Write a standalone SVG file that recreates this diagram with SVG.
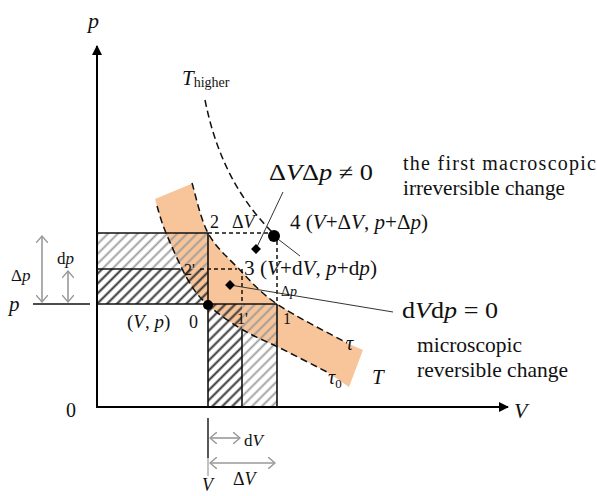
<svg xmlns="http://www.w3.org/2000/svg" width="597" height="496" viewBox="0 0 597 496">
<defs>
<style>
.t{font-family:"Liberation Serif","Times New Roman",Times,serif;fill:#111}
.i{font-style:italic}
.ax{stroke:#000;stroke-width:2;fill:none}
.ln{stroke:#111;stroke-width:1.6;fill:none}
.dl{stroke:#111;stroke-width:1.5;fill:none;stroke-dasharray:4 3}
.dc{stroke:#111;stroke-width:1.5;fill:none;stroke-dasharray:7 4}
.th{stroke:#333;stroke-width:1;fill:none}
.ga{stroke:#999;stroke-width:1.6;fill:none;marker-start:url(#ch);marker-end:url(#ch)}
</style>
<marker id="ah" viewBox="0 0 10 10" refX="9" refY="5" markerWidth="10" markerHeight="10" markerUnits="userSpaceOnUse" orient="auto"><path d="M0,0 L10,5 L0,10 Z" fill="#000"/></marker>
<marker id="ch" viewBox="0 0 8 12" refX="7" refY="6" markerWidth="8" markerHeight="12" markerUnits="userSpaceOnUse" orient="auto-start-reverse"><path d="M0,0 L7,6 L0,12" fill="none" stroke="#999" stroke-width="1.4"/></marker>
<pattern id="hd" patternUnits="userSpaceOnUse" width="7" height="7" patternTransform="rotate(-45)"><line x1="0" y1="3.5" x2="7" y2="3.5" stroke="#333" stroke-width="2"/></pattern>
<pattern id="hl" patternUnits="userSpaceOnUse" width="7" height="7" patternTransform="rotate(-45)"><line x1="0" y1="3.5" x2="7" y2="3.5" stroke="#9a9a9a" stroke-width="1.8"/></pattern>
</defs>
<rect width="597" height="496" fill="#fff"/>

<g id="band">
<path d="M155,199 L191,184 L192,183 C194.7,191.3 200.3,218.8 208,233 C215.7,247.2 226.5,256.2 238,268 C249.5,279.8 258.8,291.5 277,304 C295.2,316.5 335.3,336.5 347,343 L363,350 L349,387 L327,372 C319.2,368 294,355 280,348 C266,341 255,337.2 243,330 C231,322.8 217.2,313.3 208,305 C198.8,296.7 195,292 188,280 C181,268 171.2,245.3 166,233 C160.8,220.7 158.5,210.5 157,206 Z" fill="#F8C59A"/>
</g>

<g id="hatches">
<rect x="97" y="233" width="111" height="36" fill="url(#hl)"/>
<rect x="97" y="269" width="111" height="35" fill="url(#hd)"/>
<rect x="208" y="304" width="34" height="103" fill="url(#hd)"/>
<rect x="242" y="304" width="35" height="103" fill="url(#hl)"/>
</g>

<g id="connectors">
<line class="ax" x1="97" y1="408" x2="97" y2="46" marker-end="url(#ah)"/>
<line class="ax" x1="96" y1="407" x2="508" y2="407" marker-end="url(#ah)"/>
<line class="ln" x1="97" y1="233" x2="208" y2="233"/>
<line class="ln" x1="97" y1="269" x2="180" y2="269"/>
<line class="ln" x1="97" y1="304" x2="277" y2="304"/>
<line class="ln" x1="208" y1="233" x2="208" y2="407"/>
<line class="ln" x1="242" y1="330" x2="242" y2="407"/>
<line class="ln" x1="277" y1="304" x2="277" y2="407"/>
<line class="dl" x1="208" y1="233" x2="270" y2="233"/>
<line class="dl" x1="200" y1="269" x2="237" y2="269"/>
<line class="dl" x1="242" y1="269" x2="242" y2="304"/>
<line class="dl" x1="277" y1="241" x2="277" y2="304"/>
<path class="dc" d="M192,183 C194.7,191.3 200.3,218.8 208,233 C215.7,247.2 226.5,256.2 238,268 C249.5,279.8 258.8,291.5 277,304 C295.2,316.5 335.3,336.5 347,343"/>
<path class="dc" d="M157,206 C158.5,210.5 160.8,220.7 166,233 C171.2,245.3 181,268 188,280 C195,292 198.8,296.7 208,305 C217.2,313.3 231,322.8 243,330 C255,337.2 266,341 280,348 C294,355 319.2,368 327,372"/>
<path class="dc" d="M205,100 C215,150 235,195 272,232"/>
<line class="th" x1="274" y1="236" x2="300" y2="256"/>
<line class="th" x1="283" y1="192" x2="256" y2="249"/>
<line class="th" x1="230" y1="285" x2="393" y2="312"/>
<line x1="33" y1="304" x2="90" y2="304" stroke="#111" stroke-width="1.5"/>
<line class="ga" x1="42" y1="236" x2="42" y2="302"/>
<line class="ga" x1="68" y1="271" x2="68" y2="302" stroke="#bbb"/>
<line x1="208" y1="418" x2="208" y2="458" stroke="#111" stroke-width="1.4"/>
<line x1="208" y1="458" x2="208" y2="476" stroke="#aaa" stroke-width="1.4"/>
<line class="ga" x1="210" y1="438" x2="240" y2="438"/>
<line class="ga" x1="210" y1="463" x2="275" y2="463"/>
</g>

<g id="points">
<circle id="pt0" cx="208" cy="305" r="5" fill="#000"/>
<circle id="pt4" cx="274" cy="236" r="6" fill="#000"/>
<rect id="dot3" x="226.5" y="281.5" width="7" height="7" fill="#000" transform="rotate(45 230 285)"/>
<rect id="dot4s" x="252.5" y="245.5" width="7" height="7" fill="#000" transform="rotate(45 256 249)"/>
</g>

<g id="labels">
<text class="t i" x="88" y="28" font-size="22">p</text>
<text class="t" x="182" y="85" font-size="21"><tspan class="i">T</tspan><tspan font-size="14" dy="2">higher</tspan></text>
<text class="t" x="269" y="180" font-size="23" textLength="104" lengthAdjust="spacingAndGlyphs">Δ<tspan class="i">V</tspan>Δ<tspan class="i">p</tspan> ≠ 0</text>
<text class="t" x="403" y="170" font-size="20" textLength="193" lengthAdjust="spacing">the first macroscopic</text>
<text class="t" x="403" y="195" font-size="20" textLength="162" lengthAdjust="spacingAndGlyphs">irreversible change</text>
<text class="t" x="210" y="228" font-size="18">2</text>
<text class="t" x="232" y="228" font-size="18">Δ<tspan class="i">V</tspan></text>
<text class="t" x="290" y="229" font-size="20" textLength="138" lengthAdjust="spacingAndGlyphs">4 (<tspan class="i">V</tspan>+Δ<tspan class="i">V</tspan>, <tspan class="i">p</tspan>+Δ<tspan class="i">p</tspan>)</text>
<text class="t" x="244" y="275" font-size="20" textLength="133" lengthAdjust="spacingAndGlyphs">3 (<tspan class="i">V</tspan>+d<tspan class="i">V</tspan>, <tspan class="i">p</tspan>+d<tspan class="i">p</tspan>)</text>
<text class="t" x="184" y="275" font-size="16">2'</text>
<text class="t" x="281" y="296" font-size="14">Δ<tspan class="i">p</tspan></text>
<text class="t" x="127" y="328" font-size="19">(<tspan class="i">V</tspan>, <tspan class="i">p</tspan>)</text>
<text class="t" x="189" y="328" font-size="18">0</text>
<text class="t" x="237" y="324" font-size="16">1'</text>
<text class="t" x="283" y="324" font-size="16">1</text>
<text class="t" x="402" y="318" font-size="23" textLength="96" lengthAdjust="spacingAndGlyphs">d<tspan class="i">V</tspan>d<tspan class="i">p</tspan> = 0</text>
<text class="t" x="417" y="352" font-size="21" textLength="105" lengthAdjust="spacingAndGlyphs">microscopic</text>
<text class="t" x="417" y="377" font-size="21" textLength="151" lengthAdjust="spacingAndGlyphs">reversible change</text>
<text class="t i" x="346" y="350" font-size="20">τ</text>
<text class="t i" x="328" y="384" font-size="20">τ<tspan font-size="13" dy="4" font-style="normal">0</tspan></text>
<text class="t i" x="372" y="384" font-size="21">T</text>
<text class="t i" x="514" y="418" font-size="22">V</text>
<text class="t" x="66" y="417" font-size="20">0</text>
<text class="t i" x="9" y="311" font-size="21">p</text>
<text class="t" x="11" y="281" font-size="17">Δ<tspan class="i">p</tspan></text>
<text class="t" x="57" y="264" font-size="17">d<tspan class="i">p</tspan></text>
<text class="t" x="244" y="446" font-size="17">d<tspan class="i">V</tspan></text>
<text class="t" x="233" y="485" font-size="18">Δ<tspan class="i">V</tspan></text>
<text class="t i" x="202" y="491" font-size="18">V</text>
</g>
</svg>
